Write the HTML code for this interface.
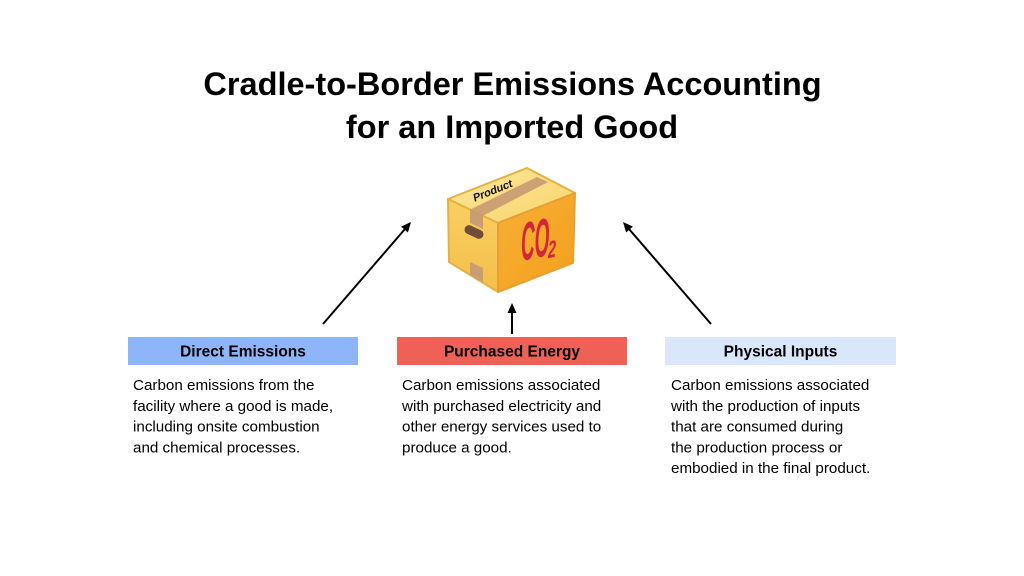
<!DOCTYPE html>
<html>
<head>
<meta charset="utf-8">
<style>
  html,body{margin:0;padding:0;background:#fff;}
  svg{display:block;}
  text{font-family:"Liberation Sans",Arial,sans-serif;}
</style>
</head>
<body>
<svg width="1024" height="576" viewBox="0 0 1024 576" xmlns="http://www.w3.org/2000/svg">
  <defs>
    <linearGradient id="gTop" x1="0" y1="0" x2="1" y2="1">
      <stop offset="0" stop-color="#fde79a"/>
      <stop offset="1" stop-color="#f9d46c"/>
    </linearGradient>
    <linearGradient id="gLeft" x1="0" y1="0" x2="0" y2="1">
      <stop offset="0" stop-color="#f9cf62"/>
      <stop offset="1" stop-color="#f5be4a"/>
    </linearGradient>
    <linearGradient id="gRight" x1="0" y1="0" x2="1" y2="1">
      <stop offset="0" stop-color="#f7b036"/>
      <stop offset="1" stop-color="#f49f1c"/>
    </linearGradient>
  </defs>
  <rect width="1024" height="576" fill="#ffffff"/>

  <!-- Title -->
  <text x="512.5" y="95" font-size="32.5" font-weight="bold" text-anchor="middle" fill="#000">Cradle-to-Border Emissions Accounting</text>
  <text x="512" y="138" font-size="32.5" font-weight="bold" text-anchor="middle" fill="#000">for an Imported Good</text>

  <!-- Cube -->
  <g stroke-linejoin="round">
    <polygon points="448,199 527,168 575,193 498,223" fill="url(#gTop)" stroke="#e6b043" stroke-width="2"/>
    <polygon points="448,199 498,223 498,292 449,262" fill="url(#gLeft)" stroke="#e6b043" stroke-width="2"/>
    <polygon points="498,223 575,193 573,263 498,292" fill="url(#gRight)" stroke="#e6a033" stroke-width="2"/>
    <!-- tape on top -->
    <polygon points="470,209.6 483,215.8 548,182 537,177" fill="#c99e73" opacity="0.95"/>
    <!-- tape on left face -->
    <polygon points="470,209.6 483,215.8 483,229 470,223" fill="#c99e73"/>
    <polygon points="470,262 483,268 483,282.5 470,275" fill="#c99e73"/>
    <!-- slot -->
    <rect x="464" y="227.5" width="20" height="9" rx="4.5" ry="4.5" fill="#6f4d3a" transform="rotate(25 474 232)"/>
    <!-- Product label -->
    <text x="0" y="0" font-size="11" font-weight="bold" font-style="italic" fill="#111" text-anchor="middle" transform="translate(494,194) rotate(-22)">Product</text>
    <!-- CO2 -->
    <g transform="translate(521,261) skewY(-12)">
      <text x="0" y="0" font-size="54" font-weight="bold" font-style="italic" fill="#d4263a" transform="scale(0.35,1)">CO</text>
      <text x="27" y="3" font-size="24" font-weight="bold" font-style="italic" fill="#d4263a" textLength="8" lengthAdjust="spacingAndGlyphs">2</text>
    </g>
  </g>

  <!-- Arrows -->
  <g stroke="#000" stroke-width="2" fill="#000">
    <line x1="323" y1="324" x2="405" y2="229"/>
    <polygon points="411,222 407.9,232.5 401.1,226.6" stroke="none"/>
    <line x1="711" y1="324" x2="629" y2="229"/>
    <polygon points="623,222 632.9,226.6 626.1,232.5" stroke="none"/>
    <line x1="512" y1="334" x2="512" y2="312"/>
    <polygon points="512,303 507.5,313 516.5,313" stroke="none"/>
  </g>

  <!-- Headers -->
  <rect x="128" y="337" width="230" height="28" fill="#8db5f8"/>
  <rect x="397" y="337" width="230" height="28" fill="#ef6157"/>
  <rect x="665" y="337" width="231" height="28" fill="#dae7fb"/>
  <text x="243" y="356.5" font-size="15.5" font-weight="bold" text-anchor="middle" fill="#000">Direct Emissions</text>
  <text x="512" y="356.5" font-size="15.5" font-weight="bold" text-anchor="middle" fill="#000">Purchased Energy</text>
  <text x="780.5" y="356.5" font-size="15.5" font-weight="bold" text-anchor="middle" fill="#000">Physical Inputs</text>

  <!-- Body text -->
  <g font-size="15.2" fill="#000">
    <text x="133" y="390">Carbon emissions from the</text>
    <text x="133" y="410.8">facility where a good is made,</text>
    <text x="133" y="431.6">including onsite combustion</text>
    <text x="133" y="452.4">and chemical processes.</text>

    <text x="402" y="390">Carbon emissions associated</text>
    <text x="402" y="410.8">with purchased electricity and</text>
    <text x="402" y="431.6">other energy services used to</text>
    <text x="402" y="452.4">produce a good.</text>

    <text x="671" y="390">Carbon emissions associated</text>
    <text x="671" y="410.8">with the production of inputs</text>
    <text x="671" y="431.6">that are consumed during</text>
    <text x="671" y="452.4">the production process or</text>
    <text x="671" y="473.2">embodied in the final product.</text>
  </g>
</svg>
</body>
</html>
